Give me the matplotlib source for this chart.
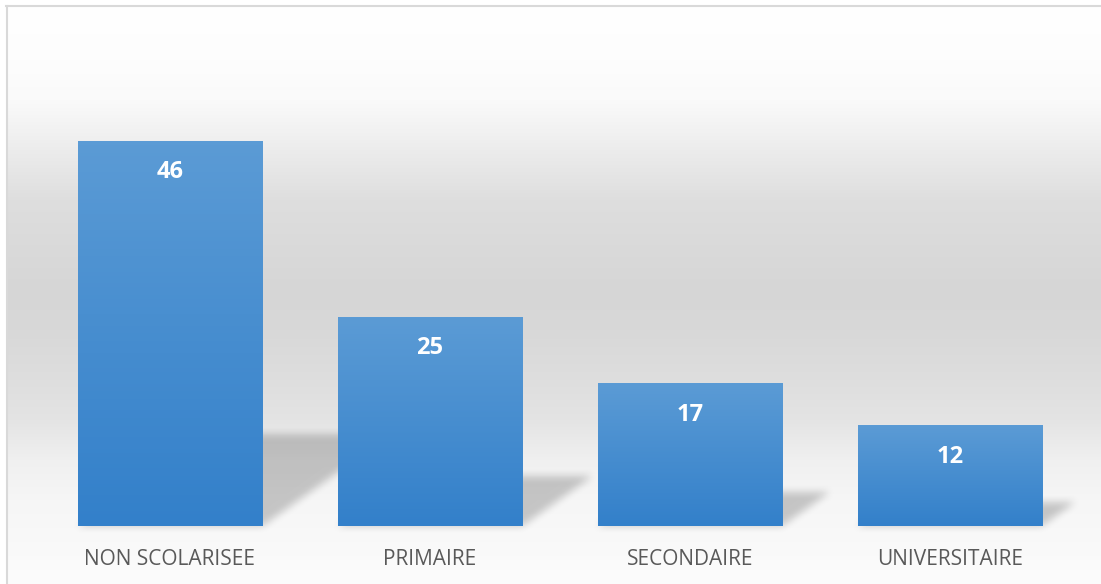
import numpy as np
import matplotlib.pyplot as plt
from matplotlib.colors import LinearSegmentedColormap

plt.rcParams['font.family'] = ['Open Sans', 'DejaVu Sans']

categories = ['NON SCOLARISEE', 'PRIMAIRE', 'SECONDAIRE', 'UNIVERSITAIRE']
values = [46, 25, 17, 12]

W, H = 1101, 584
fig = plt.figure(figsize=(W / 100, H / 100), dpi=100)

# fond en dégradé gris (coordonnées en pixels, y vers le bas)
bg = fig.add_axes([0, 0, 1, 1])
bg.set_xlim(0, W)
bg.set_ylim(H, 0)
bg.axis('off')
stops_y = [7, 60, 100, 150, 200, 290, 330, 380, 420, 460, 500, 584]
stops_g = [255, 253, 250, 236, 222, 214, 216, 222, 228, 240, 246, 252]
g = np.interp(np.arange(7, H), stops_y, stops_g) / 255
grad = np.dstack([np.repeat(g[:, None], 2, axis=1)] * 3)
bg.imshow(grad, extent=[7, W, H, 7], aspect='auto', interpolation='bilinear')
bg.plot([7, 7], [6, H], color='#d9d9d9', lw=1.5)
bg.plot([6, W], [6, 6], color='#d9d9d9', lw=1.5)

ax = fig.add_axes([40 / W, (H - 526) / H, 1040 / W, (526 - 108) / H])
ax.set_facecolor('none')
bw = 185 / 260

# ombres portées (parallélogrammes floutés)
xs = np.linspace(-0.5, 3.5, 1040)
ys = np.linspace(50, -2, 435)
X, Y = np.meshgrid(xs, ys)
mask = np.zeros_like(X)
for i, v in enumerate(values):
    hs = v * 0.24
    dx = hs * 0.045
    t = np.clip(Y / hs, 0, None)
    inside = (Y >= 0) & (Y <= hs) & (X >= i - bw / 2 + dx * t) & (X <= i + bw / 2 + dx * t)
    mask = np.maximum(mask, inside.astype(float))


def blur(a, r):
    k = np.ones(2 * r + 1) / (2 * r + 1)
    a = np.apply_along_axis(lambda m: np.convolve(m, k, mode='same'), 0, a)
    a = np.apply_along_axis(lambda m: np.convolve(m, k, mode='same'), 1, a)
    return a


mask = blur(blur(mask, 4), 4)
shadow = np.zeros(mask.shape + (4,))
shadow[..., 3] = mask * 0.2
ax.imshow(shadow, extent=[-0.5, 3.5, -2, 50], aspect='auto', zorder=2, clip_on=False)

# barres en dégradé bleu
cmap = LinearSegmentedColormap.from_list('bleu', ['#3380ca', '#5b9bd5'])
bar_grad = np.linspace(1, 0, 100)[:, None]
for i, v in enumerate(values):
    ax.imshow(bar_grad, extent=[i - bw / 2, i + bw / 2, 0, v], aspect='auto',
              cmap=cmap, vmin=0, vmax=1, zorder=3)
    ax.annotate(str(v), (i, v), xytext=(0, -31), textcoords='offset pixels',
                ha='center', va='center', color='white', fontsize=17,
                fontweight='bold', zorder=5)

ax.set_xlim(-0.5, 3.5)
ax.set_ylim(0, 50)
ax.set_xticks(range(len(categories)))
ax.set_xticklabels(categories, fontsize=15, color='#595959')
ax.set_yticks([])
ax.tick_params(length=0, pad=16.5)
for s in ax.spines.values():
    s.set_visible(False)

plt.savefig('out.png', dpi=100)
